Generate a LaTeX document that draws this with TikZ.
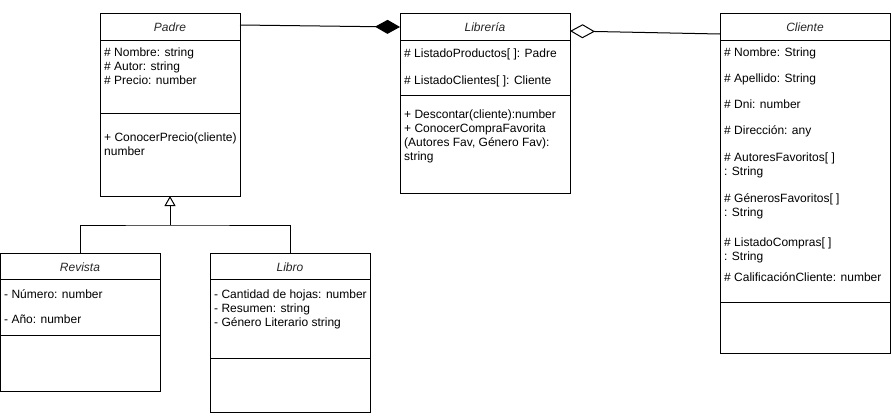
\documentclass[tikz,border=0pt]{standalone}
\usepackage{fontspec}
\setmainfont{Liberation Sans}
\usetikzlibrary{arrows.meta}
\begin{document}
\begin{tikzpicture}[x=1pt,y=-1pt,
  font=\fontsize{12}{14}\selectfont,
  cls/.style={draw, line width=1pt, anchor=north west, inner sep=0pt, outer sep=0pt},
  ttl/.style={font=\fontsize{12}{14}\selectfont\itshape, text=black!85, inner sep=0pt, text height=9pt, text depth=2.5pt, yshift=-1.5pt},
  attr/.style={anchor=west, inner sep=0pt, text height=9pt, text depth=2.5pt, yshift=-2pt},
  sepline/.style={line width=1pt},
  conn/.style={line width=1pt}]
\useasboundingbox (0,0) rectangle (891,415);

% ---------------- Padre
\node[cls, minimum width=140pt, minimum height=183pt] (padre) at (100,13) {};
\node[ttl] (padreT) at (170,27) {Padre};
\draw[sepline] (100,40) -- (240,40);
\draw[sepline] (100,113) -- (240,113);
\node[attr] (p1) at (104,51) {\# Nombre: string};
\node[attr] (p2) at (104,65) {\# Autor: string};
\node[attr] (p3) at (104,79) {\# Precio: number};
\node[attr] (p4) at (104,136) {+ ConocerPrecio(cliente)};
\node[attr] (p5) at (104,150) {number};

% ---------------- Libreria
\node[cls, minimum width=170pt, minimum height=180pt] (lib) at (400,13) {};
\node[ttl] (libT) at (485,27) {Librería};
\draw[sepline] (400,40) -- (570,40);
\draw[sepline] (400,95) -- (570,95);
\node[attr] (l1) at (404,52) {\# ListadoProductos[ ]: Padre};
\node[attr] (l2) at (404,79) {\# ListadoClientes[ ]: Cliente};
\node[attr] (l3) at (404,113) {+ Descontar(cliente):number};
\node[attr] (l4) at (404,127) {+ ConocerCompraFavorita};
\node[attr] (l5) at (404,141) {(Autores Fav, Género Fav):};
\node[attr] (l6) at (404,155) {string};

% ---------------- Cliente
\node[cls, minimum width=170pt, minimum height=340pt] (cli) at (720,13) {};
\node[ttl] (cliT) at (805,27) {Cliente};
\draw[sepline] (720,40) -- (890,40);
\draw[sepline] (720,302) -- (890,302);
\node[attr] (c1) at (724,51) {\# Nombre: String};
\node[attr] (c2) at (724,77) {\# Apellido: String};
\node[attr] (c3) at (724,103) {\# Dni: number};
\node[attr] (c4) at (724,129) {\# Dirección: any};
\node[attr] (c5) at (724,156) {\# AutoresFavoritos[ ]};
\node[attr] (c6) at (724,170) {: String};
\node[attr] (c7) at (724,197) {\# GénerosFavoritos[ ]};
\node[attr] (c8) at (724,211) {: String};
\node[attr] (c9) at (724,241) {\# ListadoCompras[ ]};
\node[attr] (c10) at (724,255) {: String};
\node[attr] (c11) at (724,276) {\# CalificaciónCliente: number};

% ---------------- Revista
\node[cls, minimum width=159.5pt, minimum height=138pt] (rev) at (0.5,253) {};
\node[ttl] (revT) at (80,267) {Revista};
\draw[sepline] (0.5,279) -- (160,279);
\draw[sepline] (0.5,335) -- (160,335);
\node[attr] (r1) at (4,293) {- Número: number};
\node[attr] (r2) at (4,318) {- Año: number};

% ---------------- Libro
\node[cls, minimum width=160pt, minimum height=159pt] (libro) at (210,253) {};
\node[ttl] (libroT) at (290,267) {Libro};
\draw[sepline] (210,279) -- (370,279);
\draw[sepline] (210,358) -- (370,358);
\node[attr] (b1) at (214,293) {- Cantidad de hojas: number};
\node[attr] (b2) at (214,307) {- Resumen: string};
\node[attr] (b3) at (214,321) {- Género Literario string};

% ---------------- Connectors
\draw[conn, -{Diamond[fill=black, length=25pt, width=14pt]}]
  ([yshift=-12pt]padre.north east) -- ([yshift=-14pt]lib.north west);
\draw[conn, {Diamond[open, fill=white, length=25pt, width=14pt]}-]
  ([yshift=-18pt]lib.north east) -- ([yshift=-21pt]cli.north west);

\coordinate (junc) at (170,225);
\draw[conn] (rev.north) |- (junc) -| (libro.north);
\draw[conn, -{Triangle[open, fill=white, length=10pt, width=11pt]}] (junc) -- (padre.south);
\end{tikzpicture}
\end{document}
